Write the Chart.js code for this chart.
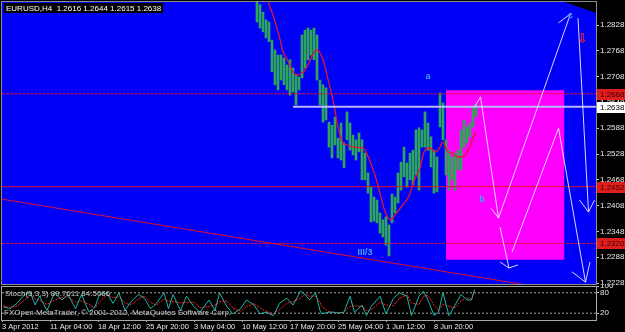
<!DOCTYPE html>
<html>
<head>
<meta charset="utf-8">
<script src="https://cdn.jsdelivr.net/npm/chart.js@4.4.1/dist/chart.umd.min.js"></script>
<style>
  html, body { margin: 0; padding: 0; background: #000; }
  #wrap { position: relative; width: 625px; height: 332px; overflow: hidden; background: #000; }
  #main { position: absolute; left: 0; top: 0; }
  #stoch { position: absolute; left: 0; top: 285px; }
</style>
</head>
<body>
<div id="wrap">
  <canvas id="main" width="625" height="286"></canvas>
  <canvas id="stoch" width="625" height="47"></canvas>
</div>
<script>
// ---- price axis ----
const priceMin = 1.22257
const priceMax = 1.28815
const priceTicks = [1.2228, 1.2288, 1.2348, 1.2408, 1.2468, 1.2528, 1.2588, 1.2648, 1.2708, 1.2768, 1.2828]
const barsShown = 396

// ---- H4 bars (every second bar, index from 3 Apr) ----
const barIdx = [170, 172, 174, 176, 178, 180, 182, 184, 186, 188,
  190, 192, 194, 196, 198, 200, 202, 204, 206, 208,
  210, 212, 214, 216, 218, 220, 222, 224, 226, 228,
  230, 232, 234, 236, 238, 240, 242, 244, 246, 248,
  250, 252, 254, 256, 258, 260, 262, 264, 266, 268,
  270, 272, 274, 276, 278, 280, 282, 284, 286, 288,
  290, 292, 294, 296, 298, 300, 302, 304, 306, 308,
  310, 312, 314, 316]
const barHigh = [1.2890, 1.2875, 1.2858, 1.2840, 1.2835, 1.2793, 1.2770, 1.2758, 1.2758, 1.2751,
  1.2735, 1.2747, 1.2728, 1.2712, 1.2707, 1.2805, 1.2816, 1.2821, 1.2816, 1.2821,
  1.2805, 1.2700, 1.2689, 1.2682, 1.2602, 1.2595, 1.2614, 1.2565, 1.2600, 1.2554,
  1.2626, 1.2600, 1.2572, 1.2561, 1.2577, 1.2561, 1.2530, 1.2484, 1.2451, 1.2428,
  1.2421, 1.2391, 1.2375, 1.2382, 1.2363, 1.2435, 1.2428, 1.2484, 1.2509, 1.2544,
  1.2507, 1.2530, 1.2537, 1.2584, 1.2589, 1.2584, 1.2626, 1.2600, 1.2568, 1.2537,
  1.2521, 1.2670, 1.2647, 1.2561, 1.2537, 1.2521, 1.2530, 1.2537, 1.2584, 1.2607,
  1.2591, 1.2600, 1.2637, 1.2644]
const barLow = [1.2835, 1.2821, 1.2812, 1.2798, 1.2789, 1.2719, 1.2689, 1.2677, 1.2700, 1.2689,
  1.2677, 1.2665, 1.2672, 1.2642, 1.2677, 1.2705, 1.2728, 1.2747, 1.2758, 1.2747,
  1.2700, 1.2642, 1.2602, 1.2607, 1.2544, 1.2519, 1.2549, 1.2519, 1.2514, 1.2496,
  1.2561, 1.2537, 1.2526, 1.2514, 1.2533, 1.2468, 1.2468, 1.2437, 1.2370, 1.2372,
  1.2368, 1.2344, 1.2335, 1.2316, 1.2291, 1.2368, 1.2391, 1.2414, 1.2444, 1.2475,
  1.2451, 1.2468, 1.2456, 1.2479, 1.2444, 1.2544, 1.2544, 1.2537, 1.2498, 1.2437,
  1.2440, 1.2591, 1.2561, 1.2479, 1.2444, 1.2468, 1.2444, 1.2491, 1.2491, 1.2544,
  1.2554, 1.2568, 1.2591, 1.2615]

// ---- moving average ----
const maIdx = [177, 181, 185, 187, 191, 194, 197, 201, 204, 207, 210, 214, 217, 221, 224, 227, 230, 235, 240, 242,
  245, 249, 252, 255, 259, 262, 267, 271, 275, 279, 281, 285, 289, 292, 294, 297, 300, 304, 307, 311, 314, 316]
const maVal = [1.2886, 1.2847, 1.2800, 1.2770, 1.2742, 1.2719, 1.2712, 1.2719, 1.2735, 1.2758,
  1.2770, 1.2747, 1.2707, 1.2647, 1.2591, 1.2556, 1.2549, 1.2544, 1.2542, 1.2537,
  1.2514, 1.2475, 1.2437, 1.2398, 1.2375, 1.2386, 1.2409, 1.2428, 1.2468, 1.2498,
  1.2530, 1.2542, 1.2533, 1.2544, 1.2556, 1.2533, 1.2530, 1.2521, 1.2521, 1.2537, 1.2565, 1.2577]

// ---- objects ----
const redLevels = [1.2668, 1.2452, 1.2320]
const bidPrice = 1.2638
const bidFrom = 194
const trendIdx = [0, 396]
const trendVal = [1.2423, 1.2197]
const boxIdx = [296, 375]
const boxTop = 1.2676
const boxBottom = 1.2282
const cornerIdx = [375, 396]
const cornerVal = [1.28815, 1.2856]

// wave projection (white lines)
const zigBars = [[315, 319, 331], [326, 331], [331, 379], [371, 379], [332, 338], [332, 338, 344],
  [340, 371], [371, 389], [380, 389, 392], [384, 391], [385, 391, 395]]
const zigPrices = [[1.2637, 1.2661, 1.2379], [1.2402, 1.2379], [1.2379, 1.2854], [1.2833, 1.2854],
  [1.2358, 1.2263], [1.2277, 1.2263, 1.2270], [1.2300, 1.2588], [1.2588, 1.2230],
  [1.2254, 1.2230, 1.2277], [1.2844, 1.2393], [1.2421, 1.2393, 1.2421]]

const waveLabels = ['a', 'b', 'III/3', 'c']
const waveBar = [284, 320, 242, 379]
const wavePrice = [1.2709, 1.2423, 1.2300, 1.2851]
const markBar = 387
const markPrice = 1.2793

// ---- stochastic ----
const stochIdx = [1, 5, 10, 15, 19, 22, 25, 30, 35, 40, 44, 49, 53, 58, 62, 65, 70, 74, 78, 82,
  86, 91, 95, 99, 103, 108, 111, 114, 119, 123, 128, 132, 138, 142, 145, 150, 154, 159, 163, 168,
  172, 176, 181, 185, 190, 194, 199, 202, 205, 209, 212,
  213, 218, 221, 224, 228, 232, 235, 240, 243, 246, 252, 256, 261, 265, 270, 273, 278, 281, 284,
  288, 291, 294, 298, 302, 306, 310, 313, 315]
const stochMain = [39, 33, 49, 75, 80, 44, 70, 28, 80, 59, 75, 33, 75, 23, 39, 75, 80, 49, 80, 28,
  54, 75, 64, 33, 49, 80, 33, 75, 28, 70, 39, 23, 59, 28, 80, 39, 18, 33, 59, 44,
  18, 23, 13, 49, 64, 44, 85, 75, 59, 80, 28,
  18, 23, 23, 20, 23, 70, 23, 44, 13, 39, 70, 18, 64, 80, 70, 13, 70, 85, 59,
  13, 23, 80, 13, 44, 75, 59, 59, 89.76]
const stochSignal = [42, 37, 41, 58, 73, 62, 58, 46, 58, 66, 68, 52, 56, 46, 36, 54, 74, 66, 68, 50,
  44, 62, 70, 52, 44, 62, 56, 54, 50, 52, 52, 36, 40, 44, 54, 56, 34, 26, 40, 48,
  36, 26, 18, 30, 50, 54, 64, 76, 70, 70, 52,
  40, 24, 22, 22, 22, 40, 42, 40, 28, 30, 52, 44, 42, 64, 74, 50, 46, 70, 72,
  44, 28, 46, 40, 36, 56, 66, 62, 84.51]
const stochLevels = [20, 80]
const stochTicks = [20, 80, 100]

// ---- time axis ----
const timeIdx = [0, 32, 64, 96, 128, 160, 192, 224, 256, 288]
const timeLabels = ['3 Apr 2012', '11 Apr 04:00', '18 Apr 12:00', '25 Apr 20:00', '3 May 04:00',
  '10 May 12:00', '17 May 20:00', '25 May 04:00', '1 Jun 12:00', '8 Jun 20:00']

const FONT = '"Liberation Sans", Arial, sans-serif'

function lineSet(xArr, yArr, color, extra) {
  return Object.assign({
    type: 'line',
    data: xArr.map((x, k) => ({ x, y: yArr[k] })),
    borderColor: color,
    borderWidth: 1,
    pointRadius: 0,
    fill: false,
    tension: 0,
    clip: 0
  }, extra || {})
}

// zigzag projection first so it is drawn on top
const datasets = []
zigBars.forEach((b, k) => datasets.push(lineSet(b, zigPrices[k], 'rgba(238,238,255,0.9)')))
datasets.push(lineSet(trendIdx, trendVal, '#e0102a'))
datasets.push(lineSet([bidFrom, barsShown], [bidPrice, bidPrice], '#b8b8ff', { borderWidth: 2 }))
redLevels.forEach((v, k) => datasets.push(lineSet([0, barsShown], [v, v], '#e0102a',
  { borderDash: k === 1 ? [] : [3, 1] })))
datasets.push(lineSet(maIdx, maVal, '#e01830', { borderWidth: 1.3, cubicInterpolationMode: 'monotone' }))
datasets.push({
  type: 'bar',
  data: barIdx.map((x, k) => ({ x, y: [barLow[k], barHigh[k]] })),
  backgroundColor: '#2ea658',
  barThickness: 2,
  clip: 0
})
datasets.push(lineSet(boxIdx, [boxTop, boxTop], '#ff00ff',
  { borderWidth: 0, fill: { value: boxBottom }, backgroundColor: '#ff00ff' }))
datasets.push(lineSet(cornerIdx, cornerVal, '#000',
  { borderWidth: 0, fill: 'end', backgroundColor: '#000' }))

const mainDeco = {
  id: 'mainDeco',
  beforeDraw(chart) {
    const { ctx, chartArea: a } = chart
    ctx.save()
    ctx.fillStyle = '#000'
    ctx.fillRect(0, 0, chart.width, chart.height)
    ctx.fillStyle = '#0000f6'
    ctx.fillRect(a.left, a.top, a.right - a.left, a.bottom - a.top)
    ctx.restore()
  },
  afterDraw(chart) {
    const { ctx, chartArea: a, scales } = chart
    const xs = scales.x
    const ys = scales.y
    ctx.save()
    ctx.strokeStyle = '#8c8c8c'
    ctx.lineWidth = 1
    ctx.strokeRect(a.left - 0.5, a.top - 0.5, a.right - a.left + 1, a.bottom - a.top + 1)

    // wave labels
    ctx.font = 'bold 9px ' + FONT
    ctx.fillStyle = '#3ea6ff'
    ctx.textAlign = 'center'
    ctx.textBaseline = 'middle'
    waveLabels.forEach((t, k) => {
      ctx.fillText(t, xs.getPixelForValue(waveBar[k]), ys.getPixelForValue(wavePrice[k]))
    })
    ctx.font = 'bold 13px "DejaVu Sans"'
    ctx.fillStyle = '#ff2020'
    ctx.fillText('\u21E9', xs.getPixelForValue(markBar), ys.getPixelForValue(markPrice))

    // price boxes on the axis
    ctx.font = '8px ' + FONT
    ctx.textAlign = 'left'
    redLevels.forEach((v) => {
      const y = Math.round(ys.getPixelForValue(v))
      ctx.fillStyle = '#e01c1c'
      ctx.fillRect(a.right + 1, y - 5, 28, 11)
      ctx.fillStyle = '#3a0000'
      ctx.fillText(v.toFixed(4), a.right + 4, y + 0.5)
    })
    const yb = Math.round(ys.getPixelForValue(bidPrice))
    ctx.fillStyle = '#fff'
    ctx.fillRect(a.right + 1, yb - 5, 28, 11)
    ctx.fillStyle = '#000'
    ctx.fillText(bidPrice.toFixed(4), a.right + 4, yb + 0.5)

    // symbol header
    const head = 'EURUSD,H4  1.2616 1.2644 1.2615 1.2638'
    const w = ctx.measureText(head).width
    ctx.fillStyle = '#000'
    ctx.fillRect(4, 3, w + 4, 10)
    ctx.fillStyle = '#fff'
    ctx.fillText(head, 6, 8.5)
    ctx.restore()
  }
}

new Chart(document.getElementById('main'), {
  type: 'bar',
  data: { datasets },
  options: {
    responsive: false,
    animation: false,
    events: [],
    layout: { padding: { left: 2, top: 2, bottom: 2, right: 0 } },
    plugins: { legend: { display: false }, tooltip: { enabled: false } },
    scales: {
      x: { type: 'linear', min: 0, max: barsShown, offset: false, display: false },
      y: {
        position: 'right',
        min: priceMin,
        max: priceMax,
        afterBuildTicks: (s) => { s.ticks = priceTicks.map(v => ({ value: v })) },
        afterFit: (s) => { s.width = 29; s.paddingTop = 0; s.paddingBottom = 0 },
        border: { display: false },
        grid: { drawOnChartArea: false, tickLength: 3, color: '#c8c8c8' },
        ticks: {
          autoSkip: false,
          padding: 1,
          color: '#e8e8e8',
          font: { family: FONT, size: 8 },
          callback: v => v.toFixed(4)
        }
      }
    }
  },
  plugins: [mainDeco]
})

// ---- stochastic window ----
const stochDeco = {
  id: 'stochDeco',
  beforeDraw(chart) {
    const { ctx } = chart
    ctx.save()
    ctx.fillStyle = '#000'
    ctx.fillRect(0, 0, chart.width, chart.height)
    ctx.restore()
  },
  afterDraw(chart) {
    const { ctx, chartArea: a } = chart
    ctx.save()
    ctx.strokeStyle = '#a8a8a8'
    ctx.lineWidth = 1
    ctx.strokeRect(a.left - 0.5, a.top + 0.5, a.right - a.left + 1, a.bottom - a.top)
    ctx.font = '8px ' + FONT
    ctx.fillStyle = '#c8c8c8'
    ctx.textBaseline = 'middle'
    ctx.fillText('Stoch(5,3,3) 89.7611 84.5066', 5, a.top + 8)
    ctx.fillText('FXOpen MetaTrader, \u00A9 2001-2012, MetaQuotes Software Corp.', 4, a.top + 27)
    ctx.restore()
  }
}

new Chart(document.getElementById('stoch'), {
  type: 'line',
  data: {
    datasets: [
      lineSet(stochIdx, stochMain, '#20b2aa'),
      lineSet(stochIdx, stochSignal, '#ff2020', { borderDash: [2, 1] }),
      lineSet([0, barsShown], [stochLevels[1], stochLevels[1]], '#a0a0a0', { borderDash: [2, 2] }),
      lineSet([0, barsShown], [stochLevels[0], stochLevels[0]], '#a0a0a0', { borderDash: [2, 2] })
    ]
  },
  options: {
    responsive: false,
    animation: false,
    events: [],
    layout: { padding: { left: 2, top: 1, bottom: 0, right: 0 } },
    plugins: { legend: { display: false }, tooltip: { enabled: false } },
    scales: {
      x: {
        type: 'linear',
        min: 0,
        max: barsShown,
        afterBuildTicks: (s) => { s.ticks = timeIdx.map(v => ({ value: v })) },
        afterFit: (s) => { s.height = 12; s.paddingLeft = 0; s.paddingRight = 0 },
        border: { display: false },
        grid: { drawOnChartArea: false, tickLength: 2, color: '#a8a8a8' },
        ticks: {
          autoSkip: false,
          maxRotation: 0,
          align: 'start',
          padding: 0,
          color: '#e8e8e8',
          font: { family: FONT, size: 7.5 },
          callback: v => timeLabels[timeIdx.indexOf(v)]
        }
      },
      y: {
        position: 'right',
        min: 0,
        max: 100,
        afterBuildTicks: (s) => { s.ticks = stochTicks.map(v => ({ value: v })) },
        afterFit: (s) => { s.width = 29; s.paddingTop = 0; s.paddingBottom = 0 },
        border: { display: false },
        grid: { drawOnChartArea: false, tickLength: 3, color: '#c8c8c8' },
        ticks: {
          autoSkip: false,
          padding: 1,
          color: '#e8e8e8',
          font: { family: FONT, size: 8 }
        }
      }
    }
  },
  plugins: [stochDeco]
})
</script>
</body>
</html>
